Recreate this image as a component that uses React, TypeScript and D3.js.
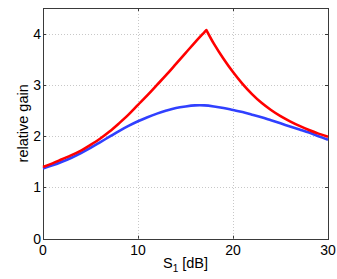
import React, { useEffect, useRef } from 'react';
import * as d3 from 'd3';

// S1 in dB
const redS = [0, 1, 2, 3, 4, 5, 6, 7, 8, 9, 10, 11, 12, 13, 14, 15, 16, 17, 17.2, 18, 19, 20, 21, 22, 23, 24, 25, 26, 27, 28, 29, 30];
const redGain = [1.40, 1.47, 1.55, 1.63, 1.72, 1.83, 1.95, 2.09, 2.25, 2.42, 2.61, 2.80, 3.00, 3.20, 3.41, 3.62, 3.83, 4.03, 4.07, 3.80, 3.51, 3.25, 3.02, 2.82, 2.65, 2.51, 2.39, 2.29, 2.20, 2.12, 2.05, 1.99];
const redPeakIndex = 18;

const blueS = [0, 1, 2, 3, 4, 5, 6, 7, 8, 9, 10, 11, 12, 13, 14, 15, 16, 17, 18, 19, 20, 21, 22, 23, 24, 25, 26, 27, 28, 29, 30];
const blueGain = [1.37, 1.43, 1.50, 1.58, 1.67, 1.77, 1.88, 1.99, 2.10, 2.20, 2.29, 2.37, 2.44, 2.50, 2.55, 2.58, 2.60, 2.60, 2.58, 2.55, 2.51, 2.47, 2.42, 2.37, 2.31, 2.25, 2.19, 2.13, 2.07, 2.00, 1.93];

const xTicks = [0, 10, 20, 30];
const yTicks = [0, 1, 2, 3, 4];

export default function App() {
  const chartRef = useRef<SVGSVGElement>(null);

  useEffect(() => {
    const svg = d3.select(chartRef.current);
    svg.selectAll('*').remove();

    const margin = { top: 8, right: 9, bottom: 40, left: 43 };
    const width = 337;
    const height = 279;
    const font = 'Arial, "Liberation Sans", Helvetica, sans-serif';

    const x = d3.scaleLinear().domain([0, 30]).range([margin.left, width - margin.right]);
    const y = d3.scaleLinear().domain([0, 4.5]).range([height - margin.bottom - 0.3, margin.top]);

    const x0 = x(0), x1 = x(30), y0 = y(0), y1 = y(4.5);

    svg.append('rect')
      .attr('x', 0).attr('y', 0).attr('width', width).attr('height', height)
      .attr('fill', '#fff');

    // grid
    const grid = svg.append('g')
      .attr('stroke', '#c8c8c8')
      .attr('stroke-width', 1)
      .attr('stroke-dasharray', '1,2');
    xTicks.filter(t => t > 0 && t < 30).forEach(t => {
      grid.append('line')
        .attr('x1', Math.round(x(t)) + 0.5).attr('x2', Math.round(x(t)) + 0.5)
        .attr('y1', y1).attr('y2', y0);
    });
    yTicks.filter(t => t > 0).forEach(t => {
      grid.append('line')
        .attr('x1', x0).attr('x2', x1)
        .attr('y1', Math.round(y(t)) + 0.5).attr('y2', Math.round(y(t)) + 0.5);
    });

    // box
    svg.append('rect')
      .attr('x', Math.round(x0) + 0.5).attr('y', Math.round(y1) + 0.5)
      .attr('width', Math.round(x1) - Math.round(x0))
      .attr('height', Math.round(y0) - Math.round(y1))
      .attr('fill', 'none')
      .attr('stroke', '#3a3a3a')
      .attr('stroke-width', 1);

    // tick marks inside on all four sides
    const ticks = svg.append('g').attr('stroke', '#3a3a3a').attr('stroke-width', 1);
    const tl = 3;
    xTicks.forEach(t => {
      const px = Math.round(x(t)) + 0.5;
      ticks.append('line').attr('x1', px).attr('x2', px).attr('y1', y0).attr('y2', y0 - tl);
      ticks.append('line').attr('x1', px).attr('x2', px).attr('y1', y1).attr('y2', y1 + tl);
    });
    yTicks.forEach(t => {
      const py = Math.round(y(t)) + 0.5;
      ticks.append('line').attr('x1', x0).attr('x2', x0 + tl).attr('y1', py).attr('y2', py);
      ticks.append('line').attr('x1', x1).attr('x2', x1 - tl).attr('y1', py).attr('y2', py);
    });

    // tick labels
    svg.append('g')
      .selectAll('text')
      .data(xTicks)
      .join('text')
      .attr('x', d => x(d))
      .attr('y', y0 + 16.5)
      .attr('text-anchor', 'middle')
      .attr('font-family', font)
      .attr('font-size', 14)
      .attr('fill', '#000')
      .text(d => d);

    svg.append('g')
      .selectAll('text')
      .data(yTicks)
      .join('text')
      .attr('x', x0 - 2)
      .attr('y', d => y(d) + 5)
      .attr('text-anchor', 'end')
      .attr('font-family', font)
      .attr('font-size', 14)
      .attr('fill', '#000')
      .text(d => d);

    // axis labels
    const xl = svg.append('text')
      .attr('x', (x0 + x1) / 2)
      .attr('y', 268)
      .attr('text-anchor', 'middle')
      .attr('font-family', font)
      .attr('font-size', 14.5)
      .attr('fill', '#000');
    xl.append('tspan').text('S');
    xl.append('tspan').attr('font-size', 10).attr('dy', 3.5).text('1');
    xl.append('tspan').attr('dy', -3.5).text(' [dB]');

    svg.append('text')
      .attr('transform', `translate(28, ${(y0 + y1) / 2}) rotate(-90)`)
      .attr('text-anchor', 'middle')
      .attr('font-family', font)
      .attr('font-size', 14.5)
      .attr('fill', '#000')
      .text('relative gain');

    const line = d3.line<[number, number]>()
      .x(d => d[0])
      .y(d => d[1])
      .curve(d3.curveCatmullRom.alpha(0.5));

    // blue curve
    const bluePts: [number, number][] = blueS.map((s, i) => [x(s), y(blueGain[i])]);
    svg.append('path')
      .attr('d', line(bluePts))
      .attr('fill', 'none')
      .attr('stroke', '#3040ff')
      .attr('stroke-width', 2.6);

    // red curve, drawn in two halves to keep the sharp peak
    const redPts: [number, number][] = redS.map((s, i) => [x(s), y(redGain[i])]);
    const left = redPts.slice(0, redPeakIndex + 1);
    const right = redPts.slice(redPeakIndex);
    svg.append('path')
      .attr('d', line(left) + line(right)!.replace(/^M/, 'L'))
      .attr('fill', 'none')
      .attr('stroke', '#ff0000')
      .attr('stroke-width', 2.6)
      .attr('stroke-linejoin', 'miter');
  }, []);

  return (
    <svg
      ref={chartRef}
      width={337}
      height={279}
      style={{ position: 'absolute', left: 0, top: 0, display: 'block' }}
    />
  );
}
